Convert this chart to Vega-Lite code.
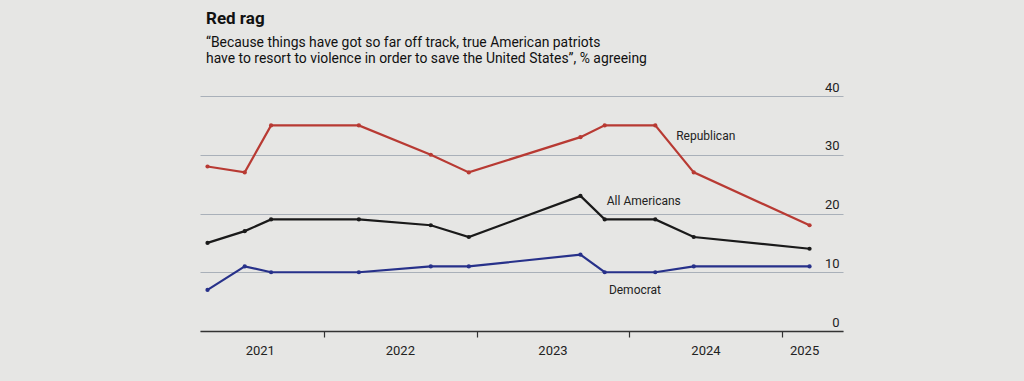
{
  "$schema": "https://vega.github.io/schema/vega-lite/v6.json",
  "width": 643,
  "height": 235,
  "autosize": {"type": "none"},
  "padding": {"left": 200, "top": 96, "right": 181, "bottom": 50},
  "background": "#e6e6e4",
  "title": {
    "text": "Red rag",
    "subtitle": ["“Because things have got so far off track, true American patriots", "have to resort to violence in order to save the United States”, % agreeing"],
    "anchor": "start",
    "frame": "group",
    "font": "Roboto",
    "fontSize": 17,
    "fontWeight": "bold",
    "color": "#111111",
    "subtitleFont": "Roboto",
    "subtitleFontSize": 13.9,
    "subtitleColor": "#111111",
    "subtitlePadding": 8,
    "subtitleLineHeight": 16,
    "offset": 14,
    "dx": 6
  },
  "config": {"view": {"stroke": null}, "font": "Roboto"},
  "datasets": {
    "series": [
      {"series": "Republican", "date": "2021-03-28", "value": 28},
      {"series": "Republican", "date": "2021-06-25", "value": 27},
      {"series": "Republican", "date": "2021-08-27", "value": 35},
      {"series": "Republican", "date": "2022-03-25", "value": 35},
      {"series": "Republican", "date": "2022-09-13", "value": 30},
      {"series": "Republican", "date": "2022-12-13", "value": 27},
      {"series": "Republican", "date": "2023-09-06", "value": 33},
      {"series": "Republican", "date": "2023-11-03", "value": 35},
      {"series": "Republican", "date": "2024-03-03", "value": 35},
      {"series": "Republican", "date": "2024-06-03", "value": 27},
      {"series": "Republican", "date": "2025-03-07", "value": 18},
      {"series": "All Americans", "date": "2021-03-28", "value": 15},
      {"series": "All Americans", "date": "2021-06-25", "value": 17},
      {"series": "All Americans", "date": "2021-08-27", "value": 19},
      {"series": "All Americans", "date": "2022-03-25", "value": 19},
      {"series": "All Americans", "date": "2022-09-13", "value": 18},
      {"series": "All Americans", "date": "2022-12-13", "value": 16},
      {"series": "All Americans", "date": "2023-09-06", "value": 23},
      {"series": "All Americans", "date": "2023-11-03", "value": 19},
      {"series": "All Americans", "date": "2024-03-03", "value": 19},
      {"series": "All Americans", "date": "2024-06-03", "value": 16},
      {"series": "All Americans", "date": "2025-03-07", "value": 14},
      {"series": "Democrat", "date": "2021-03-28", "value": 7},
      {"series": "Democrat", "date": "2021-06-25", "value": 11},
      {"series": "Democrat", "date": "2021-08-27", "value": 10},
      {"series": "Democrat", "date": "2022-03-25", "value": 10},
      {"series": "Democrat", "date": "2022-09-13", "value": 11},
      {"series": "Democrat", "date": "2022-12-13", "value": 11},
      {"series": "Democrat", "date": "2023-09-06", "value": 13},
      {"series": "Democrat", "date": "2023-11-03", "value": 10},
      {"series": "Democrat", "date": "2024-03-03", "value": 10},
      {"series": "Democrat", "date": "2024-06-03", "value": 11},
      {"series": "Democrat", "date": "2025-03-07", "value": 11}
    ],
    "labels": [
      {"label": "Republican", "date": "2024-04-22", "value": 33.2},
      {"label": "All Americans", "date": "2023-11-08", "value": 22.2},
      {"label": "Democrat", "date": "2023-11-13", "value": 6.9}
    ]
  },
  "layer": [
    {
      "data": {"name": "series"},
      "mark": {"type": "line", "strokeWidth": 2.2},
      "encoding": {
        "x": {
          "field": "date", "type": "temporal",
          "scale": {"domain": ["2021-03-10", "2025-05-26"]},
          "axis": {
            "orient": "bottom",
            "values": [{"year": 2022, "month": 1, "date": 1}, {"year": 2023, "month": 1, "date": 1}, {"year": 2024, "month": 1, "date": 1}, {"year": 2025, "month": 1, "date": 1}],
            "labels": false, "ticks": true, "tickSize": 6, "tickColor": "#333333", "tickWidth": 1.2,
            "domain": true, "domainColor": "#333333", "domainWidth": 1.3, "grid": false, "title": null
          }
        },
        "y": {
          "field": "value", "type": "quantitative",
          "scale": {"domain": [0, 40]},
          "axis": {
            "orient": "right", "values": [0, 10, 20, 30, 40], "grid": true, "gridColor": "#a9b0b9", "gridWidth": 1,
            "ticks": false, "domain": false, "labelAlign": "right", "labelBaseline": "bottom",
            "labelPadding": -4, "labelOffset": -2, "labelFontSize": 13, "labelColor": "#222222", "title": null
          }
        },
        "color": {
          "field": "series", "type": "nominal",
          "scale": {"domain": ["Republican", "All Americans", "Democrat"], "range": ["#b83a33", "#1a1a1a", "#27318a"]},
          "legend": null
        }
      }
    },
    {
      "data": {"name": "series"},
      "mark": {"type": "point", "filled": true, "size": 18, "opacity": 1},
      "encoding": {
        "x": {"field": "date", "type": "temporal", "axis": null},
        "y": {
          "field": "value", "type": "quantitative",
          "axis": {
            "orient": "right", "values": [0, 10, 20, 30, 40], "grid": true, "gridColor": "#a9b0b9", "gridWidth": 1,
            "ticks": false, "domain": false, "labelAlign": "right", "labelBaseline": "bottom",
            "labelPadding": -4, "labelOffset": -2, "labelFontSize": 13, "labelColor": "#222222", "title": null
          }
        },
        "color": {"field": "series", "type": "nominal", "legend": null}
      }
    },
    {
      "data": {"name": "labels"},
      "mark": {"type": "text", "align": "left", "baseline": "middle", "fontSize": 12, "color": "#222222", "font": "Roboto"},
      "encoding": {
        "x": {
          "field": "date", "type": "temporal",
          "axis": {
            "orient": "bottom",
            "values": [{"year": 2021, "month": 7, "date": 31}, {"year": 2022, "month": 7, "date": 1}, {"year": 2023, "month": 7, "date": 1}, {"year": 2024, "month": 7, "date": 1}, {"year": 2025, "month": 2, "date": 22}],
            "format": "%Y", "ticks": false, "domain": false, "grid": false, "labelPadding": 13,
            "labelFontSize": 13, "labelColor": "#222222", "title": null
          }
        },
        "y": {
          "field": "value", "type": "quantitative",
          "axis": {
            "orient": "right", "values": [0, 10, 20, 30, 40], "grid": true, "gridColor": "#a9b0b9", "gridWidth": 1,
            "ticks": false, "domain": false, "labelAlign": "right", "labelBaseline": "bottom",
            "labelPadding": -4, "labelOffset": -2, "labelFontSize": 13, "labelColor": "#222222", "title": null
          }
        },
        "text": {"field": "label"}
      }
    }
  ],
  "resolve": {"axis": {"x": "independent"}}
}
